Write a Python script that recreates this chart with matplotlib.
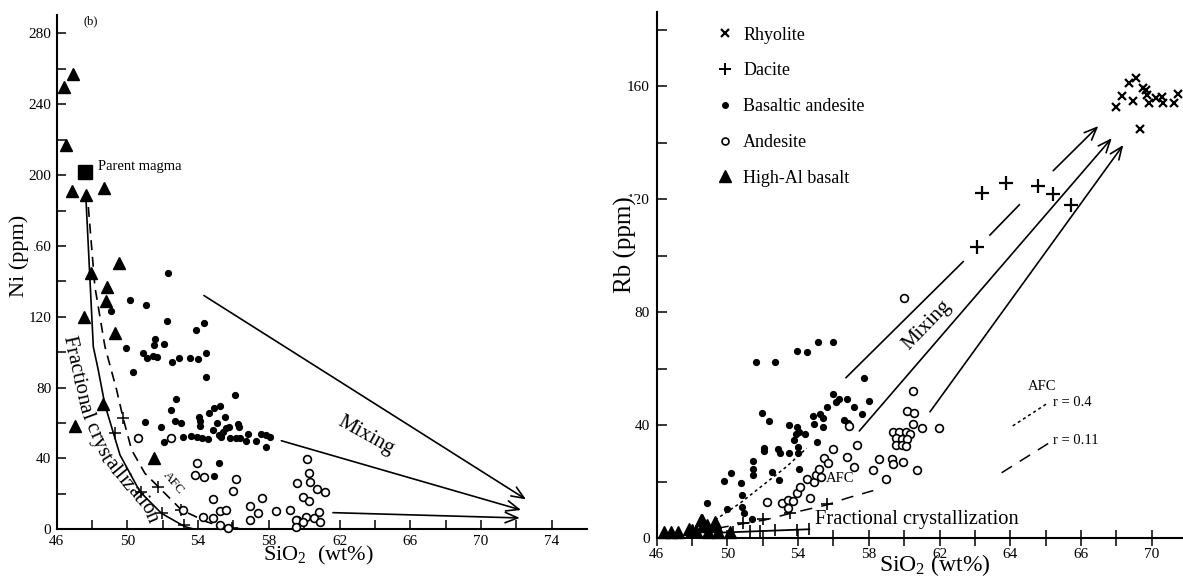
import numpy as np
import matplotlib
matplotlib.use('Agg')
import matplotlib.pyplot as plt
from matplotlib.lines import Line2D

plt.rcParams['font.family'] = 'Liberation Serif'
plt.rcParams['mathtext.fontset'] = 'custom'
plt.rcParams['mathtext.rm'] = 'Liberation Serif'
plt.rcParams['mathtext.it'] = 'Liberation Serif:italic'

# ---------------- (b) Ni vs SiO2 ----------------
ni_hab_x = [46.43, 46.94, 46.53, 46.85, 47.64, 48.69, 49.54, 47.92, 48.85, 48.77, 47.56, 49.27, 48.63, 47.03, 51.5]
ni_hab_y = [249.6, 257.0, 217.0, 190.8, 188.8, 192.7, 150.5, 145.0, 137.0, 128.8, 120.0, 110.7, 70.8, 58.5, 40.4]

ni_ba_x = [49.07, 50.14, 51.05, 52.27, 52.25, 54.34, 53.87, 49.9, 50.9, 51.12, 51.55, 51.51, 52.06, 51.68,
           51.42, 52.55, 52.93, 53.53, 53.97, 54.44, 50.33, 54.42, 52.74, 52.44, 52.68, 53.06, 50.99, 51.89,
           52.08, 53.12, 53.59, 53.94, 54.23, 54.56, 54.04, 54.1, 54.1, 54.6, 54.89, 55.23, 55.08, 54.85,
           55.38, 55.51, 55.6, 55.19, 55.32, 55.75, 56.07, 55.79, 56.26, 56.32, 56.13, 56.36, 56.7, 56.83,
           57.26, 57.58, 57.86, 58.09, 57.86, 55.17, 54.9]
ni_ba_y = [123.4, 129.5, 126.7, 144.9, 117.8, 116.7, 112.5, 102.2, 99.7, 96.5, 107.3, 104.0, 104.4, 97.1,
           97.8, 94.3, 96.9, 96.5, 96.2, 99.4, 89.0, 85.8, 73.6, 67.4, 61.3, 60.2, 60.8, 57.6,
           49.5, 52.3, 52.7, 52.3, 51.4, 51.0, 63.6, 61.3, 58.3, 65.5, 68.3, 69.6, 59.8, 56.0,
           55.1, 63.6, 57.0, 53.2, 52.3, 57.9, 75.8, 51.4, 59.5, 57.9, 51.7, 51.4, 49.9, 53.8,
           49.9, 53.8, 53.2, 51.9, 46.3, 37.3, 30.1]

ni_and_x = [50.61, 52.46, 53.96, 53.85, 54.32, 56.17, 55.98, 54.85, 56.96, 57.64, 57.36, 58.43, 59.18,
            56.96, 55.23, 55.6, 54.28, 54.85, 55.23, 55.7, 53.15, 59.6, 60.18, 60.26, 59.6, 60.31,
            60.72, 61.2, 59.93, 60.27, 60.84, 60.12, 60.54, 59.56, 59.93, 60.88, 59.52]
ni_and_y = [51.7, 51.7, 37.6, 30.7, 29.4, 28.4, 21.8, 17.1, 13.3, 17.5, 9.0, 10.3, 10.9,
            5.3, 10.5, 10.9, 6.8, 6.2, 2.4, 0.6, 10.9, 5.0, 39.7, 32.0, 26.4, 26.5,
            22.8, 21.1, 18.1, 16.2, 9.6, 7.1, 6.6, 5.3, 4.0, 4.0, 1.5]

parent_x, parent_y = 47.6, 202.0

# fractional crystallization (solid) and AFC (dashed) model curves
ni_fc_x = [47.64, 48.07, 48.35, 48.73, 49.58, 50.71, 51.93, 53.25, 53.8]
ni_fc_y = [189.7, 103.1, 90.0, 70.2, 42.0, 21.2, 9.0, 1.5, 0.0]
ni_fc_tick_x = [49.29, 50.76, 51.93, 53.21]
ni_fc_tick_y = [54.2, 21.2, 9.0, 2.4]
ni_afc_x = [47.79, 48.16, 48.73, 49.39, 49.76, 50.24, 50.99, 51.74, 53.06, 54.47, 55.32, 56.64]
ni_afc_y = [182.0, 137.0, 103.1, 78.7, 62.7, 44.8, 31.6, 24.1, 10.9, 4.3, 1.5, 0.0]
ni_afc_tick_x = [49.76, 51.74, 53.06, 55.89]
ni_afc_tick_y = [62.7, 24.1, 10.9, 0.6]

# mixing arrows: start -> end
ni_mix_x0 = [54.33, 58.71, 61.63]
ni_mix_y0 = [132.0, 50.0, 9.4]
ni_mix_x1 = [72.55, 72.27, 72.2]
ni_mix_y1 = [16.9, 10.9, 6.4]

# ---------------- Rb vs SiO2 ----------------
rb_rhy_x = [71.96, 72.34, 72.73, 73.11, 72.92, 73.52, 73.66, 73.71, 73.86, 74.22, 74.56, 74.65, 75.26, 75.5, 73.34]
rb_rhy_y = [152.8, 156.7, 161.1, 162.8, 154.8, 159.3, 158.5, 156.9, 154.2, 156.0, 156.3, 154.0, 154.2, 157.2, 144.8]

rb_dac_x = [64.42, 65.74, 67.58, 68.4, 69.42, 64.1]
rb_dac_y = [122.3, 125.9, 124.8, 121.9, 118.0, 103.0]

rb_ba_x = [48.86, 49.81, 50.19, 49.96, 50.75, 50.84, 50.81, 50.94, 51.37, 51.43, 51.46, 51.43, 51.62, 51.94,
           52.09, 52.09, 52.37, 52.54, 52.69, 52.84, 52.97, 52.92, 53.5, 53.48, 53.77, 53.86, 53.92, 54.01,
           54.01, 54.07, 54.39, 54.05, 53.95, 54.48, 54.82, 54.9, 55.05, 55.1, 55.24, 55.42, 55.42, 55.65,
           55.99, 55.99, 56.12, 56.33, 56.59, 56.75, 56.84, 57.18, 57.6, 57.72, 58.03]
rb_ba_y = [12.5, 20.2, 23.1, 10.2, 19.6, 15.2, 11.1, 8.7, 6.7, 27.3, 24.3, 22.3, 62.5, 44.4,
           32.0, 30.7, 41.4, 23.5, 62.5, 31.4, 30.2, 20.5, 30.2, 40.0, 34.7, 36.7, 39.2, 30.0,
           32.4, 37.7, 36.8, 24.3, 66.4, 65.8, 43.2, 40.3, 33.9, 69.4, 43.8, 39.4, 42.6, 46.5,
           69.4, 51.1, 48.1, 49.2, 41.8, 49.2, 40.8, 46.5, 43.8, 56.8, 48.6]

rb_and_x = [52.22, 53.07, 53.44, 53.41, 53.69, 53.95, 54.1, 54.52, 54.67, 54.9, 54.99, 55.2, 55.28,
            55.46, 55.67, 55.95, 56.75, 56.88, 57.18, 57.35, 58.22, 58.59, 58.97, 59.99, 60.48,
            60.14, 60.55, 60.51, 60.99, 61.99, 59.38, 59.72, 60.1, 60.33, 59.54, 59.86, 60.14,
            59.54, 59.86, 60.1, 59.29, 59.38, 59.91, 60.71]
rb_and_y = [12.9, 12.3, 13.5, 10.5, 13.2, 15.8, 18.2, 20.8, 14.0, 19.9, 22.3, 24.3, 21.7,
            28.2, 26.7, 31.5, 28.6, 39.7, 25.3, 32.9, 24.1, 27.9, 20.9, 84.9, 52.1,
            45.0, 44.4, 40.4, 39.1, 39.1, 37.7, 37.7, 37.7, 36.8, 35.3, 35.0, 35.0,
            32.9, 32.9, 32.6, 27.9, 26.1, 27.0, 24.1]

rb_hab_x = [46.41, 46.81, 47.22, 47.83, 48.22, 48.5, 48.6, 48.83, 49.35, 49.45, 50.15, 48.55, 49.3, 48.0, 48.9]
rb_hab_y = [2.2, 2.2, 2.2, 3.1, 2.6, 6.4, 4.3, 4.6, 4.3, 2.2, 2.2, 6.4, 5.8, 3.0, 2.0]

rb_afc04_x = [49.3, 50.71, 52.03, 53.35, 54.48]
rb_afc04_y = [6.4, 12.3, 18.8, 25.3, 31.8]
rb_afc011_x = [49.39, 50.81, 52.13, 53.54, 55.61, 56.75, 58.25]
rb_afc011_y = [3.4, 5.0, 6.4, 8.7, 11.7, 14.1, 16.8]
rb_afc011_tick_x = [50.86, 52.03, 53.54, 55.65]
rb_afc011_tick_y = [5.2, 6.6, 8.7, 11.9]
rb_fc_x = [49.58, 54.63]
rb_fc_y = [1.9, 3.1]
rb_fc_tick_x = [49.58, 50.33, 51.28, 51.84, 52.69, 53.92, 54.63]
rb_fc_tick_y = [1.9, 2.1, 2.4, 2.5, 2.7, 3.0, 3.1]

# upper mixing line is broken around the dacite points
rb_mixtop_x = [56.71, 63.34, np.nan, 64.85, 66.51, np.nan, 68.43]
rb_mixtop_y = [56.8, 97.9, np.nan, 107.3, 118.0, np.nan, 130.1]
rb_mixtop_tip = (70.98, 145.9)
rb_mix_x0 = [57.46, 61.46]
rb_mix_y0 = [37.9, 44.7]
rb_mix_x1 = [71.74, 72.39]
rb_mix_y1 = [141.6, 139.2]

rb_xticks = [46, 50, 54, 58, 62, 66, 70, 74]
rb_xticklabels = ['46', '50', '54', '58', '62', '64', '66', '70']


def text_on_path(ax, px, py, s, size):
    # lay characters one by one along a polyline (data coords)
    fig = ax.figure
    renderer = fig.canvas.get_renderer()
    pts = ax.transData.transform(np.column_stack([px, py]))
    seg = np.hypot(*np.diff(pts, axis=0).T)
    arc = np.concatenate([[0], np.cumsum(seg)])
    probe = fig.text(0, 0, '', fontsize=size)

    def width(txt):
        probe.set_text(txt + 'x')
        return probe.get_window_extent(renderer).width

    w0 = width('')
    starts = [width(s[:i]) - w0 for i in range(len(s) + 1)]
    probe.remove()
    offset = (arc[-1] - starts[-1]) / 2
    em = size * fig.dpi / 72
    inv = ax.transData.inverted()
    for i, ch in enumerate(s):
        if ch == ' ':
            continue
        a = offset + (starts[i] + starts[i + 1]) / 2
        x = np.interp(a, arc, pts[:, 0])
        y = np.interp(a, arc, pts[:, 1])
        xa, ya = np.interp(a - 10, arc, pts[:, 0]), np.interp(a - 10, arc, pts[:, 1])
        xb, yb = np.interp(a + 10, arc, pts[:, 0]), np.interp(a + 10, arc, pts[:, 1])
        ang = np.arctan2(yb - ya, xb - xa)
        bx = x + 0.3 * em * np.sin(ang)
        by = y - 0.3 * em * np.cos(ang)
        dx, dy = inv.transform((bx, by))
        ax.text(dx, dy, ch, fontsize=size, rotation=np.degrees(ang),
                rotation_mode='anchor', ha='center', va='baseline')


arrow = dict(arrowstyle='->,head_length=0.6,head_width=0.25', lw=1.2, color='black',
             shrinkA=0, shrinkB=0, mutation_scale=15)

fig = plt.figure(figsize=(11.83, 5.77), dpi=100)
axL = fig.add_axes([56.7 / 1183, 1 - 529.3 / 577, 530.3 / 1183, 514.3 / 577])
axR = fig.add_axes([656.7 / 1183, 1 - 538 / 577, 526.3 / 1183, 526 / 577])

for ax in (axL, axR):
    ax.spines['top'].set_visible(False)
    ax.spines['right'].set_visible(False)
    ax.spines['left'].set_linewidth(1.5)
    ax.spines['bottom'].set_linewidth(1.5)

# ---- left panel ----
axL.set_xlim(46, 76)
axL.set_ylim(0, 290.4)
axL.set_xticks(np.arange(46, 75, 2))
axL.set_xticklabels([str(v) if (v - 46) % 4 == 0 else '' for v in range(46, 75, 2)])
axL.set_yticks(np.arange(0, 281, 20))
axL.set_yticklabels([str(v) if v % 40 == 0 else '' for v in range(0, 281, 20)])
axL.tick_params(direction='in', length=6.5, width=1.1, labelsize=11, pad=4)

axL.plot(ni_fc_x, ni_fc_y, color='black', lw=1.2)
axL.plot(ni_afc_x, ni_afc_y, color='black', lw=1.2, dashes=(6, 4))
axL.plot(ni_fc_tick_x, ni_fc_tick_y, ls='none', marker='+', ms=8, mew=1.1, color='black')
axL.plot(ni_afc_tick_x, ni_afc_tick_y, ls='none', marker='+', ms=8, mew=1.1, color='black')
for x0, y0, x1, y1 in zip(ni_mix_x0, ni_mix_y0, ni_mix_x1, ni_mix_y1):
    axL.annotate('', xy=(x1, y1), xytext=(x0, y0), arrowprops=arrow)

axL.plot(ni_ba_x, ni_ba_y, ls='none', marker='o', ms=4.2, color='black', clip_on=False, zorder=3)
axL.plot(ni_and_x, ni_and_y, ls='none', marker='o', ms=5.6, mfc='white', mec='black', mew=1.2,
         clip_on=False, zorder=3)
axL.plot(ni_hab_x, ni_hab_y, ls='none', marker='^', ms=8, color='black', clip_on=False, zorder=4)
axL.plot([parent_x], [parent_y], ls='none', marker='s', ms=9.5, color='black', zorder=5)

axL.text(48.33, 205, 'Parent magma', fontsize=10.5, va='center')
axL.text(47.5, 287, '(b)', fontsize=9, va='center')
axL.text(63.5, 53, 'Mixing', fontsize=15, rotation=-29, ha='center', va='center')
axL.text(52.6, 26, 'AFC', fontsize=9.5, rotation=-50, ha='center', va='center')
text_on_path(axL, [46.7, 47.69, 48.82, 50.05, 51.18, 51.6],
             [111.0, 66.4, 41.0, 26.0, 12.8, 3.0], 'Fractional crystallization', 15)

axL.set_xlabel('SiO$_2$  (wt%)', fontsize=16, va='center')
axL.xaxis.set_label_coords(0.493, -0.051)
axL.set_ylabel('Ni (ppm)', fontsize=16, va='center',
               bbox=dict(boxstyle='square,pad=0.2', fc='white', ec='none'))
axL.yaxis.set_label_coords(-0.070, 0.531)

# ---- right panel ----
axR.set_xlim(46, 75.77)
axR.set_ylim(0, 186.3)
axR.set_xticks(np.arange(46, 75, 2), minor=True)
axR.set_xticks(rb_xticks)
axR.set_xticklabels(rb_xticklabels)
axR.set_yticks(np.arange(0, 181, 20))
axR.set_yticklabels([str(v) if v % 40 == 0 else '' for v in range(0, 181, 20)])
axR.tick_params(axis='x', which='both', direction='inout', length=12, width=1.1, labelsize=11, pad=1)
axR.tick_params(axis='y', direction='in', length=7, width=1.1, labelsize=11, pad=5)

axR.plot(rb_afc04_x, rb_afc04_y, color='black', lw=1.1, dashes=(2, 2))
axR.plot(rb_afc011_x, rb_afc011_y, color='black', lw=1.1, dashes=(8, 6))
axR.plot(rb_afc011_tick_x, rb_afc011_tick_y, ls='none', marker='+', ms=8, mew=1.2, color='black')
axR.plot(rb_fc_x, rb_fc_y, color='black', lw=1.3)
axR.plot(rb_fc_tick_x, rb_fc_tick_y, ls='none', marker='|', ms=8, mew=1.2, color='black')

axR.plot(rb_mixtop_x, rb_mixtop_y, color='black', lw=1.2)
axR.annotate('', xy=rb_mixtop_tip, xytext=(rb_mixtop_x[-1], rb_mixtop_y[-1]), arrowprops=arrow)
for x0, y0, x1, y1 in zip(rb_mix_x0, rb_mix_y0, rb_mix_x1, rb_mix_y1):
    axR.annotate('', xy=(x1, y1), xytext=(x0, y0), arrowprops=arrow)

axR.plot(rb_ba_x, rb_ba_y, ls='none', marker='o', ms=4.2, color='black', zorder=3)
axR.plot(rb_and_x, rb_and_y, ls='none', marker='o', ms=5.6, mfc='white', mec='black', mew=1.2, zorder=3)
axR.plot(rb_hab_x, rb_hab_y, ls='none', marker='^', ms=8.5, color='black', clip_on=False, zorder=4)
axR.plot(rb_dac_x, rb_dac_y, ls='none', marker='+', ms=10, mew=1.6, color='black', zorder=4)
axR.plot(rb_rhy_x, rb_rhy_y, ls='none', marker='x', ms=6, mew=1.6, color='black', clip_on=False, zorder=4)

axR.text(61.3, 75.4, 'Mixing', fontsize=15, rotation=46, ha='center', va='center')
axR.text(56.37, 21.1, 'AFC', fontsize=10.5, ha='center', va='center')
axR.text(54.95, 6.4, 'Fractional crystallization', fontsize=14.8, va='center')

# AFC key, lower right
axR.plot([66.14, 68.15], [39.7, 47.9], color='black', lw=1.1, dashes=(2, 2))
axR.plot([65.51, 68.15], [23.1, 33.5], color='black', lw=1.1, dashes=(8, 6))
axR.text(67.82, 53.6, 'AFC', fontsize=10.5, ha='center', va='center')
axR.text(68.42, 47.9, 'r = 0.4', fontsize=10.5, va='center')
axR.text(68.42, 34.7, 'r = 0.11', fontsize=10.5, va='center')

handles = [
    Line2D([], [], ls='none', marker='x', ms=6, mew=1.6, color='black'),
    Line2D([], [], ls='none', marker='+', ms=8, mew=1.4, color='black'),
    Line2D([], [], ls='none', marker='o', ms=4, color='black'),
    Line2D([], [], ls='none', marker='o', ms=5, mfc='white', mec='black', mew=1.2),
    Line2D([], [], ls='none', marker='^', ms=8, color='black'),
]
axR.legend(handles, ['Rhyolite', 'Dacite', 'Basaltic andesite', 'Andesite', 'High-Al basalt'],
           loc='upper left', bbox_to_anchor=(0.104, 0.986), frameon=False, fontsize=13,
           handlelength=0.75, handletextpad=0.6, labelspacing=1.04, borderaxespad=0, borderpad=0.4)

axR.set_xlabel('SiO$_2$ (wt%)', fontsize=17, va='center')
axR.xaxis.set_label_coords(0.529, -0.0513)
axR.set_ylabel('Rb (ppm)', fontsize=18, va='center',
               bbox=dict(boxstyle='square,pad=0.0', fc='white', ec='none'))
axR.yaxis.set_label_coords(-0.060, 0.557)

fig.savefig('out.png', dpi=100)
